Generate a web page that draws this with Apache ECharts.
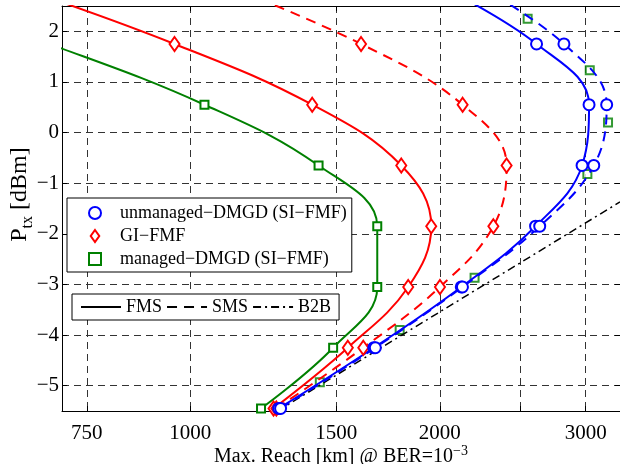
<!DOCTYPE html>
<html>
<head>
<meta charset="utf-8">
<script src="https://cdn.jsdelivr.net/npm/echarts@6/dist/echarts.min.js"></script>
<style>
html,body{margin:0;padding:0;background:#fff;}
#chart{width:620px;height:464px;}
</style>
</head>
<body>
<div id="chart"></div>
<script>
// launch power of the marked points [dBm] (last step sits above the frame)
var powerSteps = [-5.45, -4.25, -3.05, -1.85, -0.65, 0.55, 1.75, 2.95];
// max reach [km] for each power step
var unmanagedFms = [1278, 1665, 2123, 2610, 2970, 3028, 2617, 1972];
var unmanagedSms = [1285, 1672, 2130, 2640, 3068, 3180, 2824, 2198];
var giFms = [1260, 1549, 1832, 1953, 1797, 1403, 957, 600];
var giSms = [1270, 1617, 2001, 2321, 2408, 2131, 1607, 1087];
var managedFms = [1217, 1487, 1681, 1681, 1428, 1040, 676, 417];
// managed-DMGD over SMS has its own power grid
var managedSmsPower = [-4.93, -3.90, -2.87, -1.85, -0.82, 0.20, 1.23, 2.25];
var managedSms = [1433, 1789, 2203, 2637, 3014, 3192, 3034, 2553];
// back-to-back
var b2bPower = [-5.5, -1.37];
var b2bReach = [1274, 3300];

var xTicks = [750, 1000, 1500, 2000, 2500, 3000];
var xLabels = [750, 1000, 1500, 2000, 3000];
var yTicks = [-5, -4, -3, -2, -1, 0, 1, 2];

var FONT = '"Liberation Serif", "Times New Roman", serif';
var BLUE = '#0000ff', RED = '#ff0000', GREEN = '#008000';
var DASH = [10, 7];
var DASHDOT = [8, 4, 2, 4];

var nameUnm = 'unmanaged\u2212DMGD (SI\u2212FMF)';
var nameGi = 'GI\u2212FMF';
var nameMan = 'managed\u2212DMGD (SI\u2212FMF)';

function pairs(xs, ys){
	var out = [];
	for(var i=0; i<xs.length; i++){
		out.push([xs[i], ys[i]]);
	}
	return out;
}
function minus(v){
	return String(v).replace('-', '\u2212');
}

function curve(name, reach, color, dashed, symbol, size){
	return {
		name: name,
		type: 'line',
		data: pairs(reach, powerSteps),
		smooth: 0.4,
		clip: true,
		symbol: symbol,
		symbolSize: size,
		showAllSymbol: true,
		lineStyle: {color: color, width: 2, type: dashed ? DASH : 'solid'},
		itemStyle: {color: '#fff', borderColor: color, borderWidth: 2},
		emphasis: {disabled: true}
	};
}

var frameLine = {show: true, onZero: false, lineStyle: {color: '#000', width: 1}};

var option = {
	animation: false,
	backgroundColor: '#fff',
	grid: {left: 62, right: 0, top: 6, bottom: 53, outerBoundsMode: 'none', containLabel: false},
	xAxis: [
		{
			type: 'log',
			logBase: 10,
			min: 700,
			max: 3300,
			axisLine: frameLine,
			axisTick: {show: true, inside: true, length: 5, customValues: xTicks, lineStyle: {color: '#000'}},
			axisLabel: {
				customValues: xLabels,
				margin: 12,
				color: '#000',
				fontFamily: FONT,
				fontSize: 21,
				formatter: function(v){ return String(Math.round(v)); }
			},
			splitLine: {show: true, lineStyle: {color: '#333', width: 1, type: [7, 5]}},
			name: '{a|Max. Reach [km] @ BER=10}{s|\u22123}',
			nameLocation: 'middle',
			nameGap: 33,
			nameMoveOverlap: false,
			nameTextStyle: {
				color: '#000',
				fontFamily: FONT,
				rich: {
					a: {fontSize: 20, fontFamily: FONT, color: '#000', verticalAlign: 'bottom'},
					s: {fontSize: 14, fontFamily: FONT, color: '#000', verticalAlign: 'bottom', padding: [0, 0, 9, 0]}
				}
			}
		},
		{
			type: 'log',
			logBase: 10,
			position: 'top',
			min: 700,
			max: 3300,
			axisLine: frameLine,
			axisTick: {show: true, inside: true, length: 5, customValues: xTicks, lineStyle: {color: '#000'}},
			axisLabel: {show: false},
			splitLine: {show: false}
		}
	],
	yAxis: [
		{
			type: 'value',
			min: -5.5,
			max: 2.5,
			axisLine: frameLine,
			axisTick: {show: true, inside: true, length: 5, customValues: yTicks, lineStyle: {color: '#000'}},
			axisLabel: {
				customValues: yTicks,
				margin: 3,
				color: '#000',
				fontFamily: FONT,
				fontSize: 21,
				formatter: minus
			},
			splitLine: {show: true, lineStyle: {color: '#333', width: 1, type: [7, 5]}},
			name: '{a|P}{b|tx}{a| [dBm]}',
			nameLocation: 'middle',
			nameRotate: 90,
			nameGap: 26,
			nameMoveOverlap: false,
			nameTextStyle: {
				color: '#000',
				fontFamily: FONT,
				padding: [0, 0, 0, 28],
				rich: {
					a: {fontSize: 24, fontFamily: FONT, color: '#000', verticalAlign: 'top'},
					b: {fontSize: 16, fontFamily: FONT, color: '#000', verticalAlign: 'top', padding: [12, 0, 0, 0]}
				}
			}
		},
		{
			type: 'value',
			position: 'right',
			min: -5.5,
			max: 2.5,
			axisLine: frameLine,
			axisTick: {show: true, inside: true, length: 5, customValues: yTicks, lineStyle: {color: '#000'}},
			axisLabel: {show: false},
			splitLine: {show: false}
		}
	],
	legend: [
		{
			orient: 'vertical',
			left: 67,
			top: 198,
			itemWidth: 40,
			itemHeight: 12,
			itemGap: 5,
			padding: [6, 5, 4, 21],
			backgroundColor: '#fff',
			borderColor: '#000',
			borderWidth: 1,
			borderRadius: 0,
			selectedMode: false,
			textStyle: {color: '#000', fontFamily: FONT, fontSize: 18},
			data: [
				{name: nameUnm, icon: 'circle', itemStyle: {color: '#fff', borderColor: BLUE, borderWidth: 2}},
				{name: nameGi, icon: 'path://M5,0 L10,7 L5,14 L0,7 Z', itemStyle: {color: '#fff', borderColor: RED, borderWidth: 2}},
				{name: nameMan, icon: 'path://M0,0 L10,0 L10,10 L0,10 Z', itemStyle: {color: '#fff', borderColor: GREEN, borderWidth: 2}}
			]
		},
		{
			orient: 'horizontal',
			left: 72,
			top: 294,
			itemWidth: 40,
			itemHeight: 12,
			itemGap: 4,
			padding: [4, 8, 4, 8],
			backgroundColor: '#fff',
			borderColor: '#000',
			borderWidth: 1,
			borderRadius: 0,
			selectedMode: false,
			textStyle: {color: '#000', fontFamily: FONT, fontSize: 18},
			itemStyle: {color: 'rgba(0,0,0,0)', borderWidth: 0, opacity: 0},
			lineStyle: {color: '#000'},
			data: ['FMS', 'SMS', 'B2B']
		}
	],
	series: [
		{
			name: 'B2B',
			type: 'line',
			data: pairs(b2bReach, b2bPower),
			symbol: 'none',
			clip: true,
			lineStyle: {color: '#000', width: 1.5, type: DASHDOT},
			emphasis: {disabled: true}
		},
		{name: 'FMS', type: 'line', data: [], symbol: 'none', lineStyle: {color: '#000', width: 2, type: 'solid'}},
		{name: 'SMS', type: 'line', data: [], symbol: 'none', lineStyle: {color: '#000', width: 2, type: DASH}},
		curve(nameMan, managedFms, GREEN, false, 'rect', 8),
		curve(nameGi, giFms, RED, false, 'diamond', [10, 14]),
		curve(nameGi, giSms, RED, true, 'diamond', [10, 14]),
		curve(nameUnm, unmanagedFms, BLUE, false, 'circle', 11),
		curve(nameUnm, unmanagedSms, BLUE, true, 'circle', 11),
		{
			name: nameMan,
			type: 'scatter',
			data: pairs(managedSms, managedSmsPower),
			symbol: 'rect',
			symbolSize: 8,
			itemStyle: {color: '#fff', borderColor: GREEN, borderWidth: 2},
			emphasis: {disabled: true}
		}
	]
};

var myChart = echarts.init(document.getElementById('chart'));
myChart.setOption(option);
</script>
</body>
</html>
